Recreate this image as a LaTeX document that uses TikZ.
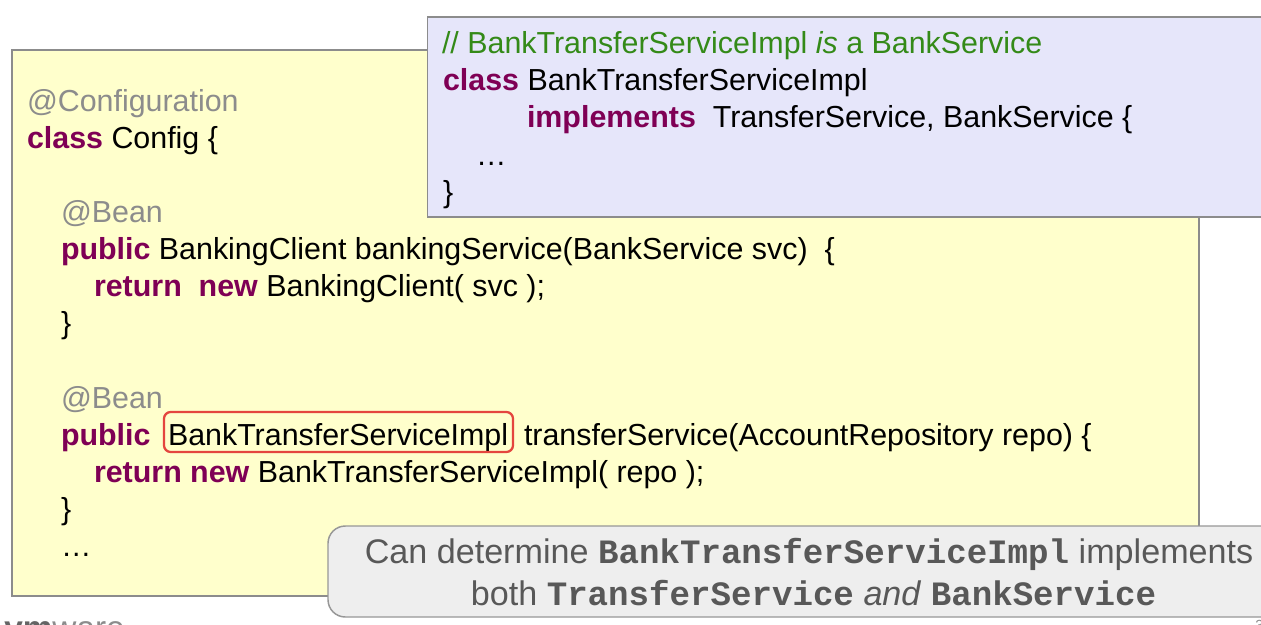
\documentclass[tikz,border=0pt]{standalone}
\usepackage{fontspec}
\setmainfont{Liberation Sans}
\setmonofont{Liberation Mono}
\definecolor{kw}{RGB}{127,0,85}
\definecolor{cmt}{RGB}{52,138,24}
\definecolor{anno}{RGB}{140,140,140}
\definecolor{yel}{RGB}{255,255,204}
\definecolor{lav}{RGB}{230,230,250}
\definecolor{edge}{RGB}{140,140,140}
\definecolor{note}{RGB}{238,238,238}
\definecolor{notetxt}{RGB}{88,88,88}
\definecolor{hl}{RGB}{228,70,62}
\definecolor{logodark}{RGB}{100,100,100}
\newcommand{\kw}[1]{\textcolor{kw}{\textbf{#1}}}
\newcommand{\an}[1]{\textcolor{anno}{#1}}
\tikzset{
  code/.style={anchor=base west,inner sep=0pt,outer sep=0pt,font=\fontsize{22.8}{26}\selectfont},
  notetext/.style={anchor=base,inner sep=0pt,font=\fontsize{25.6}{30}\selectfont,text=notetxt},
  panel/.style={draw=edge,line width=1.3pt},
}
\begin{document}
\begin{tikzpicture}[x=0.75pt,y=-0.75pt]
\useasboundingbox (0,0) rectangle (1261,625);
\clip (0,0) rectangle (1261,625);
\fill[white] (0,0) rectangle (1261,625);
\draw[panel,fill=yel] (12,50) rectangle (1199,596);
\node[code] (l1) at (27,111) {\an{@Configuration}};
\node[code] (l2) at (27,148) {\kw{class} Config \{};
\node[code] (l3) at (61,222) {\an{@Bean}};
\node[code] (l4) at (61,259) {\kw{public} BankingClient bankingService(BankService svc)\ \ \{};
\node[code] (l5) at (94,296) {\kw{return}\ \ \kw{new} BankingClient( svc );};
\node[code] (l6) at (61,333) {\}};
\node[code] (l7) at (61,408) {\an{@Bean}};
\node[code] (l8) at (61,445) {\kw{public}};
\node[code] (l8b) at (168,445) {BankTransferServiceImpl};
\node[code] (l8c) at (524,445) {transferService(AccountRepository repo) \{};
\node[code] (l9) at (94,482) {\kw{return new} BankTransferServiceImpl( repo );};
\node[code] (l10) at (61,519) {\}};
\node[code] (l11) at (61,556) {…};
\draw[draw=hl,line width=1.7pt,rounded corners=5pt] (164,412) rectangle (513,452);
\draw[panel,fill=lav] (427.5,17) rectangle (1275,217);
\node[code] (b1) at (442,53.5) {\textcolor{cmt}{// BankTransferServiceImpl \textit{is} a BankService}};
\node[code] (b2) at (443,90.5) {\kw{class} BankTransferServiceImpl};
\node[code] (b3) at (527,127.5) {\kw{implements}\ \ TransferService, BankService \{};
\node[code] (b4) at (476,165) {…};
\node[code] (b5) at (443,202) {\}};
\draw[draw=edge!90,line width=1.1pt,fill=note,rounded corners=13pt] (328,526) rectangle (1290,617);
\node[notetext] (n1) at (809,563) {Can determine \texttt{\textbf{BankTransferServiceImpl}} implements};
\node[notetext] (n2) at (813.5,605) {both \texttt{\textbf{TransferService}} \textit{and} \texttt{\textbf{BankService}}};
\node[anchor=base west,inner sep=0pt,font=\fontsize{25}{28}\selectfont,text=anno] (logo) at (4,639) {\textcolor{logodark}{\textbf{vm}}ware};
\node[anchor=base west,inner sep=0pt,font=\fontsize{11}{13}\selectfont,text=anno] (pg) at (1255,630) {3};
\end{tikzpicture}
\end{document}
